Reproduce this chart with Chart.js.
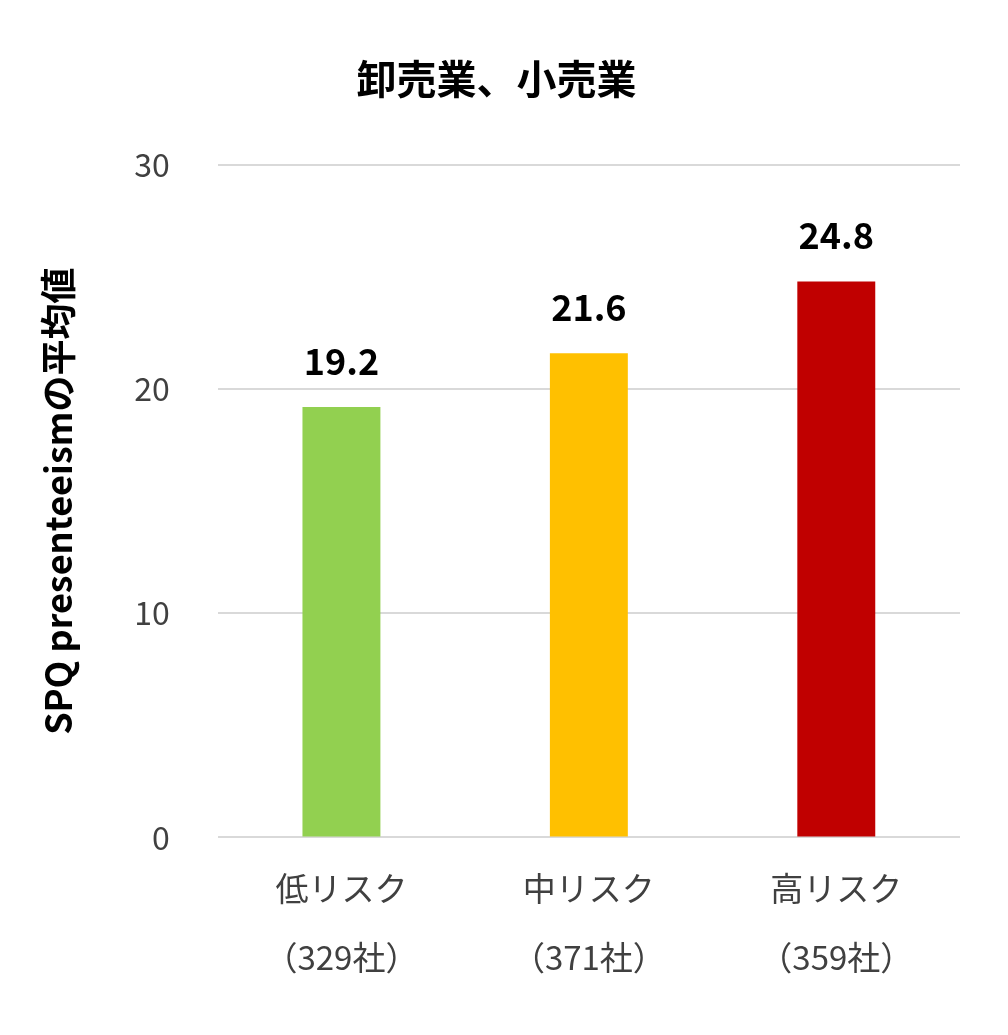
<!DOCTYPE html>
<html><head><meta charset="utf-8">
<script src="https://cdn.jsdelivr.net/npm/chart.js@4"></script>
<style>body{margin:0;background:#fff}#wrap{width:1008px;height:1035px}</style>
</head><body><div id="wrap"><canvas id="c"></canvas></div>
<script>
const categories = [["低リスク", "（329社）"], ["中リスク", "（371社）"], ["高リスク", "（359社）"]];
const values = [19.2, 21.6, 24.8];
const barColors = ["#92d050", "#ffc000", "#c00000"];
const yTicks = [0, 10, 20, 30];

const font = '"Noto Sans CJK JP", "Noto Sans", sans-serif';

// draws the value above each bar
const valueLabels = {
  id: "valueLabels",
  afterDatasetsDraw(chart) {
    const ctx = chart.ctx;
    ctx.save();
    ctx.font = "bold 36px " + font;
    ctx.fillStyle = "#000";
    ctx.textAlign = "center";
    ctx.textBaseline = "bottom";
    chart.getDatasetMeta(0).data.forEach((bar, i) => {
      ctx.fillText(values[i].toFixed(1), bar.x, bar.y - 28);
    });
    ctx.restore();
  }
};

new Chart(document.getElementById("c"), {
  type: "bar",
  data: {
    labels: categories,
    datasets: [{ data: values, backgroundColor: barColors, barPercentage: 0.63, categoryPercentage: 0.5 }]
  },
  options: {
    responsive: true,
    maintainAspectRatio: false,
    animation: false,
    layout: { padding: { top: 55, right: 48, left: 33, bottom: 35 } },
    plugins: {
      legend: { display: false },
      tooltip: { enabled: false },
      title: {
        display: true, text: "卸売業、小売業", color: "#000",
        font: { family: font, size: 40, weight: "bold" }, padding: { bottom: 62 }
      }
    },
    scales: {
      x: {
        grid: { display: false },
        border: { display: false },
        ticks: { color: "#404040", font: { family: font, size: 33, lineHeight: 2.1 }, padding: 8 }
      },
      y: {
        min: 0, max: 30,
        afterBuildTicks: (s) => { s.ticks = yTicks.map(v => ({ value: v })); },
        grid: { color: "#d9d9d9", lineWidth: 2, drawTicks: false },
        border: { display: false },
        ticks: { color: "#404040", font: { family: font, size: 32 }, padding: 48 },
        title: {
          display: true, text: "SPQ presenteeismの平均値", color: "#000",
          font: { family: font, size: 36, weight: "bold" }, padding: { bottom: 6 }
        }
      }
    }
  },
  plugins: [valueLabels]
});
</script></body></html>
